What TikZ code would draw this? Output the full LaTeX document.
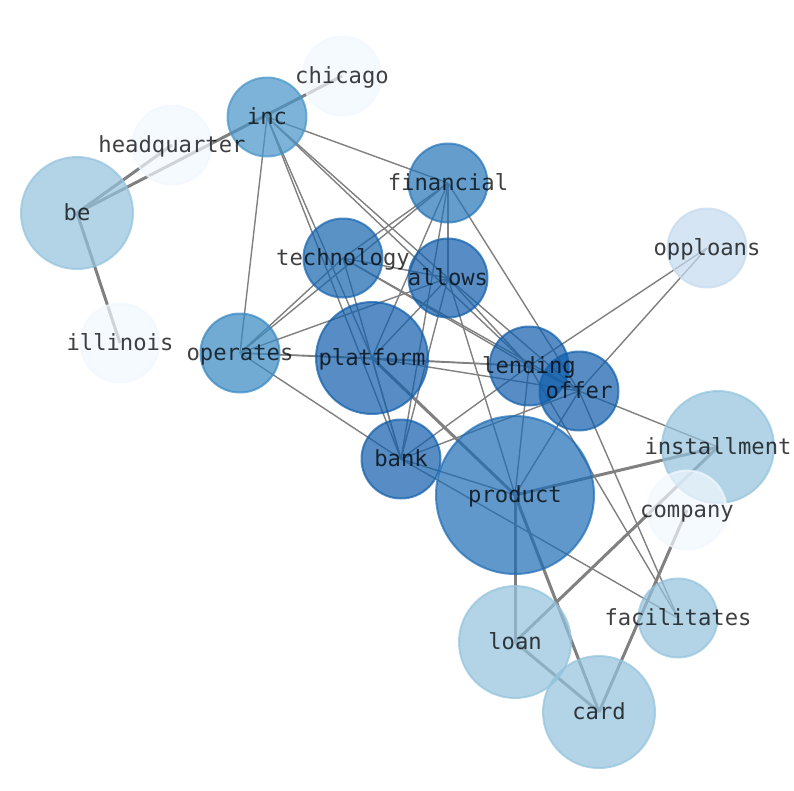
\documentclass[tikz,border=0pt]{standalone}
\usepackage{fontspec}
\setmonofont{DejaVu Sans Mono}
\definecolor{cD}{RGB}{16,94,171}
\definecolor{cT}{RGB}{22,101,175}
\definecolor{cP}{RGB}{31,109,181}
\definecolor{cF}{RGB}{37,116,183}
\definecolor{cO}{RGB}{54,136,194}
\definecolor{cI}{RGB}{71,148,200}
\definecolor{cL}{RGB}{147,195,221}
\definecolor{cOp}{RGB}{196,219,239}
\definecolor{cW}{RGB}{242,248,255}
\definecolor{edgec}{RGB}{128,128,128}
\begin{document}
\begin{tikzpicture}[x=1pt,y=-1pt,
  nd/.style={circle, minimum size=#1, inner sep=0pt, line width=2pt, fill opacity=0.7, draw opacity=0.7},
  eth/.style={draw=edgec, line width=1.4pt},
  ethk/.style={draw=edgec, line width=3pt},
  lbl/.style={anchor=base, text=black, text opacity=0.75, inner sep=0pt, font=\fontsize{22.2}{25}\selectfont\ttfamily}]
\useasboundingbox (0,0) rectangle (794,790);
\fill[white] (0,0) rectangle (794,790);
% positions
\coordinate (chicago) at (342,76);
\coordinate (inc) at (267,117);
\coordinate (headquarter) at (172,145);
\coordinate (be) at (77,213);
\coordinate (financial) at (448,183);
\coordinate (technology) at (343,258);
\coordinate (allows) at (448,278);
\coordinate (opploans) at (707,248);
\coordinate (illinois) at (120,343);
\coordinate (operates) at (240,353);
\coordinate (platform) at (372,358);
\coordinate (lending) at (529,366);
\coordinate (offer) at (579,391);
\coordinate (installment) at (718,447);
\coordinate (bank) at (401,459);
\coordinate (product) at (515,495);
\coordinate (company) at (687,510);
\coordinate (facilitates) at (678,618);
\coordinate (loan) at (515,642);
\coordinate (card) at (599,712);
% thick edges
\foreach \a/\b in {be/headquarter, be/chicago, be/illinois, product/installment, product/loan, product/card, loan/card, loan/installment, card/company, platform/product}
  \draw[ethk] (\a) -- (\b);
% thin edges
\foreach \a/\b in {inc/financial, inc/operates, inc/platform, inc/bank, inc/allows, inc/lending,
  financial/operates, financial/technology, financial/platform, financial/bank, financial/allows, financial/offer,
  technology/operates, technology/allows, technology/lending, technology/offer, technology/bank,
  operates/allows, operates/platform, operates/lending, operates/bank,
  platform/allows, platform/lending, platform/offer, platform/bank,
  allows/bank, allows/product, allows/lending, allows/offer,
  lending/offer, lending/product, lending/bank, lending/opploans, lending/facilitates,
  offer/product, offer/bank, offer/opploans, offer/installment, offer/facilitates,
  bank/product, bank/facilitates}
  \draw[eth] (\a) -- (\b);
% nodes
\node[nd=79pt, fill=cW, draw=cW] (chicago-n) at (chicago) {};
\node[nd=79pt, fill=cI, draw=cI] (inc-n) at (inc) {};
\node[nd=79pt, fill=cW, draw=cW] (headquarter-n) at (headquarter) {};
\node[nd=112pt, fill=cL, draw=cL] (be-n) at (be) {};
\node[nd=79pt, fill=cF, draw=cF] (financial-n) at (financial) {};
\node[nd=79pt, fill=cT, draw=cT] (technology-n) at (technology) {};
\node[nd=79pt, fill=cD, draw=cD] (allows-n) at (allows) {};
\node[nd=79pt, fill=cOp, draw=cOp] (opploans-n) at (opploans) {};
\node[nd=79pt, fill=cW, draw=cW] (illinois-n) at (illinois) {};
\node[nd=79pt, fill=cO, draw=cO] (operates-n) at (operates) {};
\node[nd=112pt, fill=cD, draw=cD] (platform-n) at (platform) {};
\node[nd=79pt, fill=cD, draw=cD] (lending-n) at (lending) {};
\node[nd=79pt, fill=cD, draw=cD] (offer-n) at (offer) {};
\node[nd=112pt, fill=cL, draw=cL] (installment-n) at (installment) {};
\node[nd=79pt, fill=cD, draw=cD] (bank-n) at (bank) {};
\node[nd=158pt, fill=cP, draw=cP] (product-n) at (product) {};
\node[nd=79pt, fill=cW, draw=cW] (company-n) at (company) {};
\node[nd=79pt, fill=cL, draw=cL] (facilitates-n) at (facilitates) {};
\node[nd=112pt, fill=cL, draw=cL] (loan-n) at (loan) {};
\node[nd=112pt, fill=cL, draw=cL] (card-n) at (card) {};
% labels
\foreach \n in {chicago, inc, headquarter, be, financial, technology, allows, opploans, illinois, operates, platform, lending, offer, installment, bank, product, company, facilitates, loan, card}
  \node[lbl] (\n-l) at ([yshift=-7pt]\n) {\n};
\end{tikzpicture}
\end{document}
